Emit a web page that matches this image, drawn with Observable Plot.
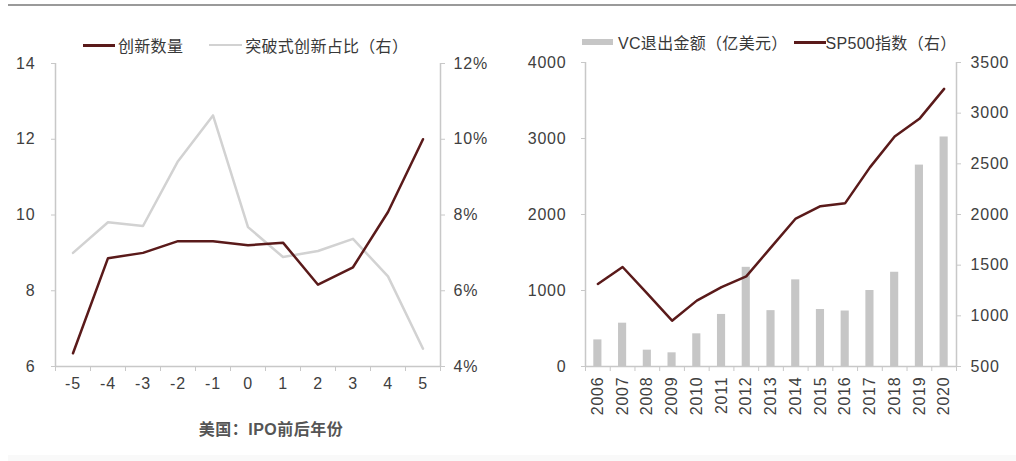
<!DOCTYPE html>
<html><head><meta charset="utf-8">
<script src="https://cdn.jsdelivr.net/npm/d3@7"></script>
<script src="https://cdn.jsdelivr.net/npm/@observablehq/plot@0.6"></script>
<style>
body{margin:0;background:#fff;}
#wrap{position:relative;width:1016px;height:461px;overflow:hidden;background:#fff;font-family:"Liberation Sans",Arial,"Noto Sans CJK SC",sans-serif;}
.abs{position:absolute;}
.topline{left:8px;top:4px;width:1008px;height:2px;background:#9a9a9a;}
.bottomband{left:8px;top:455px;width:1008px;height:6px;background:#f9f9f9;}
.legend{display:flex;align-items:center;height:22px;font-size:16px;color:#383838;white-space:nowrap;letter-spacing:0.3px;}
.sw{display:inline-block;}
.caption{font-size:16px;color:#555;font-weight:bold;text-align:center;letter-spacing:0.5px;}
#left,#right{position:absolute;top:0;}
#left{left:0;} #right{left:505px;}
#left svg text, #right svg text{letter-spacing:0.8px;}
</style></head><body>
<div id="wrap">
  <div class="abs topline"></div>
  <div class="abs bottomband"></div>
  <div id="left"></div>
  <div id="right"></div>
  <div class="abs legend" id="legL" style="left:83px;top:34px;"></div>
  <div class="abs legend" id="legR" style="left:582px;top:31px;"></div>
  <div class="abs caption" id="cap" style="left:121px;top:416px;width:300px;"></div>
</div>
<script>
// ---------- Left chart data ----------
const offsets = [-5, -4, -3, -2, -1, 0, 1, 2, 3, 4, 5];
const innovationCount = [6.35, 8.86, 9.0, 9.31, 9.31, 9.2, 9.27, 8.16, 8.62, 10.08, 12.0];
const breakthroughShare = [7.0, 7.81, 7.71, 9.42, 10.63, 7.68, 6.89, 7.05, 7.37, 6.38, 4.47];
const leftTicks = [6, 8, 10, 12, 14];
const shareTicks = [4, 6, 8, 10, 12];
const leftSeriesNames = ["创新数量", "突破式创新占比（右）"];
const leftCaption = "美国：IPO前后年份";

// ---------- Right chart data ----------
const years = [2006, 2007, 2008, 2009, 2010, 2011, 2012, 2013, 2014, 2015, 2016, 2017, 2018, 2019, 2020];
const vcExitAmount = [350, 570, 215, 180, 430, 685, 1305, 735, 1140, 750, 730, 1000, 1240, 2650, 3020];
const sp500Index = [1315, 1482, 1220, 952, 1150, 1283, 1390, 1675, 1960, 2082, 2112, 2465, 2770, 2944, 3240];
const vcTicks = [0, 1000, 2000, 3000, 4000];
const spTicks = [500, 1000, 1500, 2000, 2500, 3000, 3500];
const rightSeriesNames = ["VC退出金额（亿美元）", "SP500指数（右）"];

const DARK = "#5a1a1a", LIGHT = "#d2d2d2", BAR = "#c6c6c6", AXIS = "#c8c8c8", TXT = "#404040";
const FONT = '"Liberation Sans", Arial, "Noto Sans CJK SC", sans-serif';

// ---------- Left plot ----------
const shareToLeft = p => p + 2; // 4% -> 6, 12% -> 14
const leftData = offsets.map((o, i) => ({o, count: innovationCount[i], share: breakthroughShare[i]}));
const lb = [...offsets.map(o => o - 0.5), offsets[offsets.length - 1] + 0.5];

const leftPlot = Plot.plot({
  width: 505, height: 461,
  marginLeft: 55, marginRight: 65, marginTop: 63, marginBottom: 95,
  x: {domain: [lb[0], lb[lb.length - 1]]},
  y: {domain: [leftTicks[0], leftTicks[leftTicks.length - 1]]},
  style: {fontFamily: FONT, fontSize: "16px", color: TXT, background: "transparent", overflow: "visible"},
  marks: [
    Plot.ruleX([lb[0], lb[lb.length - 1]], {stroke: AXIS, strokeWidth: 1.5}),
    Plot.ruleY([leftTicks[0]], {stroke: AXIS, strokeWidth: 1.5}),
    Plot.axisX({ticks: lb, tickSize: 5, tickFormat: () => "", stroke: AXIS, label: null}),
    Plot.axisX({ticks: offsets, tickSize: 0, tickPadding: 11, tickFormat: d => String(d), fill: TXT, label: null}),
    Plot.axisY({ticks: leftTicks, anchor: "left", tickSize: 4, tickPadding: 16, stroke: AXIS, fill: TXT, label: null}),
    Plot.axisY({ticks: shareTicks.map(shareToLeft), anchor: "right", tickSize: 4, tickPadding: 9, stroke: AXIS, fill: TXT,
      tickFormat: v => (v - 2) + "%", label: null}),
    Plot.line(leftData, {x: "o", y: d => shareToLeft(d.share), stroke: LIGHT, strokeWidth: 2.5}),
    Plot.line(leftData, {x: "o", y: "count", stroke: DARK, strokeWidth: 2.5})
  ]
});
document.getElementById("left").appendChild(leftPlot);

// ---------- Right plot ----------
const spToLeft = s => (s - 500) * 4000 / 3000;
const rightData = years.map((y, i) => ({year: y, vc: vcExitAmount[i], sp: sp500Index[i]}));
const rb = [...years.map(y => y - 0.5), years[years.length - 1] + 0.5];

const rightPlot = Plot.plot({
  width: 511, height: 461,
  marginLeft: 80, marginRight: 60, marginTop: 62, marginBottom: 95,
  x: {domain: [rb[0], rb[rb.length - 1]]},
  y: {domain: [vcTicks[0], vcTicks[vcTicks.length - 1]]},
  style: {fontFamily: FONT, fontSize: "16px", color: TXT, background: "transparent", overflow: "visible"},
  marks: [
    Plot.rectY(rightData, {x1: d => d.year - 0.5, x2: d => d.year + 0.5, y: "vc", insetLeft: 8.3, insetRight: 8.3, fill: BAR}),
    Plot.ruleX([rb[0], rb[rb.length - 1]], {stroke: AXIS, strokeWidth: 1.5}),
    Plot.ruleY([vcTicks[0]], {stroke: AXIS, strokeWidth: 1.5}),
    Plot.axisX({ticks: rb, tickSize: 5, tickFormat: () => "", stroke: AXIS, label: null}),
    Plot.axisX({ticks: years, tickSize: 0, tickPadding: 10, tickRotate: -90, tickFormat: d => String(d), fill: TXT, label: null}),
    Plot.axisY({ticks: vcTicks, anchor: "left", tickSize: 4, tickPadding: 15, stroke: AXIS, fill: TXT, tickFormat: d => String(d), label: null}),
    Plot.axisY({ticks: spTicks.map(spToLeft), anchor: "right", tickSize: 4, tickPadding: 10, stroke: AXIS, fill: TXT,
      tickFormat: v => String(Math.round(v * 3000 / 4000 + 500)), label: null}),
    Plot.line(rightData, {x: "year", y: d => spToLeft(d.sp), stroke: DARK, strokeWidth: 2.5})
  ]
});
document.getElementById("right").appendChild(rightPlot);

// ---------- Legends & caption ----------
function sw(w, h, c, ml, mr) {
  return `<span class="sw" style="width:${w}px;height:${h}px;background:${c};margin-left:${ml}px;margin-right:${mr}px;"></span>`;
}
document.getElementById("legL").innerHTML =
  sw(32, 3, DARK, 0, 3) + `<span>${leftSeriesNames[0]}</span>` +
  sw(33, 2, LIGHT, 26, 3) + `<span>${leftSeriesNames[1]}</span>`;
document.getElementById("legR").innerHTML =
  sw(31, 6, BAR, 0, 5) + `<span>${rightSeriesNames[0]}</span>` +
  sw(32, 3, DARK, 6, 0) + `<span>${rightSeriesNames[1]}</span>`;
document.getElementById("cap").textContent = leftCaption;
</script>
</body></html>
